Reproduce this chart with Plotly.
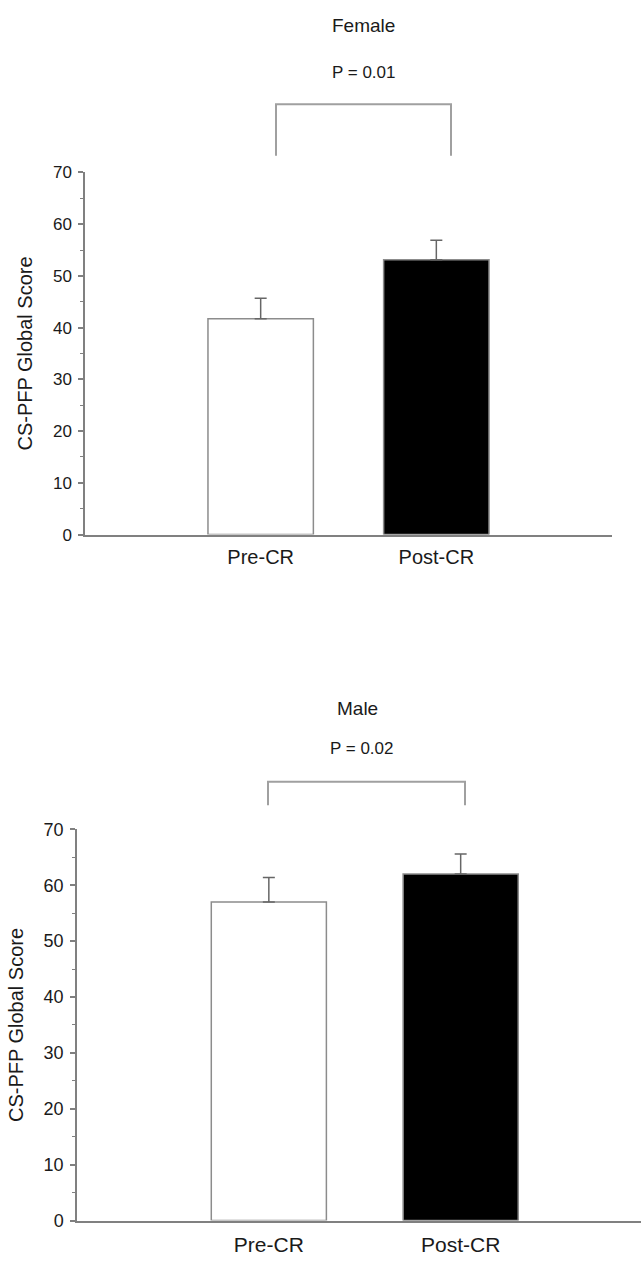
import plotly.graph_objects as go

# ---- data ----
categories = ["Pre-CR", "Post-CR"]
female_means = [41.7, 53.1]
female_sem = [4.0, 3.8]
male_means = [57.0, 62.0]
male_sem = [4.4, 3.6]
panel_titles = ["Female", "Male"]
p_values = ["P = 0.01", "P = 0.02"]
y_ticks = [0, 10, 20, 30, 40, 50, 60, 70]
y_title = "CS-PFP Global Score"

bar_fills = ["white", "black"]
xpos = [1, 2]

FONT = "Liberation Sans, Arial, sans-serif"
TXT = "#1a1a1a"
AX = "#808080"

fig = go.Figure()

def add_panel(means, sem, xa, ya):
    fig.add_trace(go.Bar(
        x=xpos, y=means, width=0.6,
        marker=dict(color=bar_fills, line=dict(color="#8c8c8c", width=1.5)),
        error_y=dict(type="data", symmetric=False, array=sem,
                     arrayminus=[0] * len(sem), color="#666666",
                     thickness=1.5, width=6),
        xaxis=xa, yaxis=ya, showlegend=False, hoverinfo="skip",
    ))

add_panel(female_means, female_sem, "x", "y")
add_panel(male_means, male_sem, "x2", "y2")

W, H = 641, 1268

def px(x):
    return x / W

def py(y):
    return 1 - y / H

common_x = dict(tickmode="array", tickvals=xpos, ticktext=categories,
                showline=True, linecolor=AX, linewidth=1.5, ticks="",
                ticklabelstandoff=4,
                showgrid=False, zeroline=False, fixedrange=True)
common_y = dict(range=[0, 70], tickvals=y_ticks, showline=True, linecolor=AX,
                linewidth=1.5, ticks="outside", ticklen=5, tickwidth=1.5,
                tickcolor=AX, showgrid=False, zeroline=False,
                ticklabelstandoff=3,
                minor=dict(dtick=5, ticks="outside", ticklen=3, tickwidth=1,
                           tickcolor=AX),
                title=dict(text=y_title, font=dict(size=20, family=FONT, color=TXT)))

fig.update_layout(
    width=W, height=H, margin=dict(l=0, r=0, t=0, b=0),
    paper_bgcolor="white", plot_bgcolor="white",
    font=dict(family=FONT, color=TXT),
    xaxis=dict(domain=[px(85), px(612)], range=[0, 3], anchor="y",
               tickfont=dict(size=20, family=FONT, color=TXT), **common_x),
    yaxis=dict(domain=[py(533), py(165)], anchor="x",
               tickfont=dict(size=17, family=FONT, color=TXT), **common_y),
    xaxis2=dict(domain=[px(77), 1.0], range=[0, 2.94], anchor="y2",
                tickfont=dict(size=21, family=FONT, color=TXT), **common_x),
    yaxis2=dict(domain=[py(1230), py(832.5)], anchor="x2",
                tickfont=dict(size=18, family=FONT, color=TXT), **common_y),
)

# titles and p-values
anns = [
    (panel_titles[0], 363, 16, 19),
    (p_values[0], 364, 63, 17),
    (panel_titles[1], 357, 710, 19),
    (p_values[1], 362, 750, 17),
]
for text, x, y, size in anns:
    fig.add_annotation(text=text, x=px(x), y=py(y), xref="paper", yref="paper",
                       showarrow=False, xanchor="center", yanchor="middle",
                       font=dict(size=size, family=FONT, color=TXT))

# significance brackets
BR = "#a0a0a0"
brackets = [(276, 451, 95.7, 148), (268, 465, 784, 808)]
for xl, xr, ytop, ybot in brackets:
    fig.add_shape(type="path", xref="paper", yref="paper",
                  path=f"M {px(xl)} {py(ybot)} L {px(xl)} {py(ytop)} L {px(xr)} {py(ytop)} L {px(xr)} {py(ybot)}",
                  line=dict(color=BR, width=2))

fig.write_html(
    "out.html",
    config={"displayModeBar": False},
    post_script="document.body.style.margin='0';document.body.style.overflow='hidden';",
)
